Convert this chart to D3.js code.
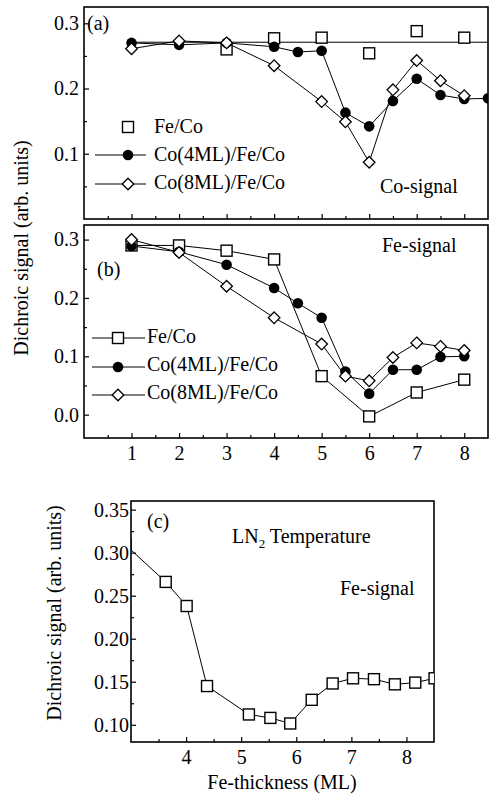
<!DOCTYPE html>
<html>
<head>
<meta charset="utf-8">
<script src="https://cdn.jsdelivr.net/npm/d3@7"></script>
<style>
  body { margin: 0; background: #fff; }
  svg { display: block; }
  text { font-family: "Liberation Serif", "Times New Roman", serif; fill: #000; }
</style>
</head>
<body>
<div id="graph_div"></div>
<script>
// values

// panel (a) Co-signal
const a_feco_x = [3, 4, 5, 6, 7, 8];
const a_feco_y = [0.260, 0.277, 0.278, 0.254, 0.288, 0.278];
const a_co4_x = [1, 2, 3, 4, 4.5, 5, 5.5, 6, 6.5, 7, 7.5, 8, 8.5];
const a_co4_y = [0.270, 0.267, 0.270, 0.264, 0.256, 0.258, 0.163, 0.142, 0.181, 0.215, 0.190, 0.184, 0.185];
const a_co8_x = [1, 2, 3, 4, 5, 5.5, 6, 6.5, 7, 7.5, 8];
const a_co8_y = [0.261, 0.273, 0.270, 0.235, 0.180, 0.149, 0.087, 0.198, 0.243, 0.212, 0.189];
const a_ref_x = [1, 8.5];
const a_ref_y = [0.271, 0.271];

// panel (b) Fe-signal
const b_feco_x = [1, 2, 3, 4, 5, 6, 7, 8];
const b_feco_y = [0.290, 0.290, 0.281, 0.266, 0.066, -0.003, 0.038, 0.060];
const b_co4_x = [1, 2, 3, 4, 4.5, 5, 5.5, 6, 6.5, 7, 7.5, 8];
const b_co4_y = [0.289, 0.279, 0.257, 0.217, 0.191, 0.166, 0.074, 0.036, 0.077, 0.077, 0.099, 0.100];
const b_co8_x = [1, 2, 3, 4, 5, 5.5, 6, 6.5, 7, 7.5, 8];
const b_co8_y = [0.300, 0.278, 0.220, 0.166, 0.121, 0.066, 0.058, 0.098, 0.123, 0.117, 0.110];

// panel (c) LN2 temperature
const c_x = [2.9, 3.63, 4.01, 4.38, 5.14, 5.53, 5.89, 6.28, 6.66, 7.03, 7.41, 7.79, 8.16, 8.51];
const c_y = [0.309, 0.266, 0.238, 0.145, 0.112, 0.108, 0.1015, 0.129, 0.148, 0.154, 0.153, 0.147, 0.149, 0.154];

const xTicksAB = [1, 2, 3, 4, 5, 6, 7, 8];
const xMinorAB = [0.5, 1.5, 2.5, 3.5, 4.5, 5.5, 6.5, 7.5];
const yTicksA = [0.1, 0.2, 0.3];
const yMinorA = [0.05, 0.15, 0.25];
const yTicksB = [0.0, 0.1, 0.2, 0.3];
const yMinorB = [0.05, 0.15, 0.25];
const xTicksC = [4, 5, 6, 7, 8];
const xMinorC = [3.5, 4.5, 5.5, 6.5, 7.5];
const yTicksC = [0.10, 0.15, 0.20, 0.25, 0.30, 0.35];
const yMinorC = [0.125, 0.175, 0.225, 0.275, 0.325];

const legendNames = ["Fe/Co", "Co(4ML)/Fe/Co", "Co(8ML)/Fe/Co"];

const width = 490;
const height = 799;
const fontSize = 20;

const svg = d3.select("#graph_div")
  .append("svg").attr("width", width).attr("height", height);

const zip = (xs, ys) => xs.map((v, i) => [v, ys[i]]);

function drawMarker(g, kind, cx, cy) {
  if (kind === "square") {
    g.append("rect").attr("x", cx - 5.5).attr("y", cy - 5.5).attr("width", 11).attr("height", 11)
      .attr("fill", "#fff").attr("stroke", "#000").attr("stroke-width", 1.4);
  } else if (kind === "circle") {
    g.append("circle").attr("cx", cx).attr("cy", cy).attr("r", 5.3).attr("fill", "#000");
  } else {
    const s = 5.8;
    g.append("path").attr("d", `M${cx},${cy - s}L${cx + s},${cy}L${cx},${cy + s}L${cx - s},${cy}Z`)
      .attr("fill", "#fff").attr("stroke", "#000").attr("stroke-width", 1.3);
  }
}

function panel(opt) {
  const x = d3.scaleLinear().domain(opt.xd).range([opt.left, opt.right]);
  const y = d3.scaleLinear().domain(opt.yd).range([opt.bottom, opt.top]);
  const g = svg.append("g");

  const clipId = "clip" + opt.id;
  svg.append("clipPath").attr("id", clipId)
    .append("rect").attr("x", opt.left).attr("y", opt.top)
    .attr("width", opt.right - opt.left).attr("height", opt.bottom - opt.top);

  // axes, ticks point inwards
  const yAx = g.append("g").attr("transform", `translate(${opt.left},0)`)
    .call(d3.axisLeft(y).tickValues(opt.yTicks).tickSizeInner(-5).tickSizeOuter(0)
      .tickPadding(opt.yPad).tickFormat(d3.format(opt.yFmt)));
  const yMin = g.append("g").attr("transform", `translate(${opt.left},0)`)
    .call(d3.axisLeft(y).tickValues(opt.yMinor).tickSizeInner(-3).tickSizeOuter(0).tickFormat(""));
  const xAx = g.append("g").attr("transform", `translate(0,${opt.bottom})`)
    .call(d3.axisBottom(x).tickValues(opt.xTicks).tickSizeInner(-5).tickSizeOuter(0)
      .tickPadding(opt.xPad).tickFormat(opt.xLabels ? d3.format("d") : ""));
  const xMin = g.append("g").attr("transform", `translate(0,${opt.bottom})`)
    .call(d3.axisBottom(x).tickValues(opt.xMinor).tickSizeInner(-3).tickSizeOuter(0).tickFormat(""));

  [yAx, yMin, xAx, xMin].forEach(a => {
    a.select(".domain").remove();
    a.selectAll("line").attr("stroke", "#000").attr("stroke-width", 1.2);
    a.selectAll("text").style("font-size", fontSize + "px")
      .style("font-family", '"Liberation Serif", "Times New Roman", serif');
  });

  g.append("rect").attr("x", opt.left).attr("y", opt.top)
    .attr("width", opt.right - opt.left).attr("height", opt.bottom - opt.top)
    .attr("fill", "none").attr("stroke", "#000").attr("stroke-width", 1.6);

  const plot = g.append("g").attr("clip-path", `url(#${clipId})`);
  const line = d3.line().x(d => x(d[0])).y(d => y(d[1]));

  opt.series.forEach(s => {
    const data = zip(s.x, s.y);
    if (s.line) {
      plot.append("path").datum(data).attr("fill", "none").attr("stroke", "#000")
        .attr("stroke-width", 1).attr("d", line);
    }
    if (s.marker) data.forEach(d => drawMarker(plot, s.marker, x(d[0]), y(d[1])));
  });
  return { x, y };
}

// (a)
panel({
  id: "a", left: 84, right: 488, top: 7, bottom: 219,
  xd: [0, 8.5], yd: [0, 0.325],
  yTicks: yTicksA, yMinor: yMinorA, yFmt: ".1f", yPad: 5,
  xTicks: xTicksAB, xMinor: xMinorAB, xLabels: false, xPad: 8,
  series: [
    { x: a_ref_x, y: a_ref_y, line: true },
    { x: a_feco_x, y: a_feco_y, marker: "square" },
    { x: a_co4_x, y: a_co4_y, line: true, marker: "circle" },
    { x: a_co8_x, y: a_co8_y, line: true, marker: "diamond" }
  ]
});

// (b)
panel({
  id: "b", left: 84, right: 488, top: 225, bottom: 438,
  xd: [0, 8.5], yd: [-0.04, 0.325],
  yTicks: yTicksB, yMinor: yMinorB, yFmt: ".1f", yPad: 5,
  xTicks: xTicksAB, xMinor: xMinorAB, xLabels: true, xPad: 8,
  series: [
    { x: b_feco_x, y: b_feco_y, line: true, marker: "square" },
    { x: b_co4_x, y: b_co4_y, line: true, marker: "circle" },
    { x: b_co8_x, y: b_co8_y, line: true, marker: "diamond" }
  ]
});

// (c)
panel({
  id: "c", left: 131, right: 434, top: 501, bottom: 742,
  xd: [3, 8.5], yd: [0.08, 0.36],
  yTicks: yTicksC, yMinor: yMinorC, yFmt: ".2f", yPad: 2,
  xTicks: xTicksC, xMinor: xMinorC, xLabels: true, xPad: 8,
  series: [
    { x: c_x, y: c_y, line: true, marker: "square" }
  ]
});

// legends
const kinds = ["square", "circle", "diamond"];
const legA = svg.append("g");
[133, 161, 189].forEach((by, i) => {
  const my = [127, 155, 184][i];
  if (i > 0) legA.append("line").attr("x1", 95).attr("x2", 146).attr("y1", my).attr("y2", my)
    .attr("stroke", "#000").attr("stroke-width", 1);
  drawMarker(legA, kinds[i], 128, my);
  legA.append("text").attr("x", 154).attr("y", by).style("font-size", fontSize + "px").text(legendNames[i]);
});
const legB = svg.append("g");
[343, 371, 399].forEach((by, i) => {
  const my = [338, 367, 395][i];
  legB.append("line").attr("x1", 92).attr("x2", 145).attr("y1", my).attr("y2", my)
    .attr("stroke", "#000").attr("stroke-width", 1);
  drawMarker(legB, kinds[i], 118, my);
  legB.append("text").attr("x", 147).attr("y", by).style("font-size", fontSize + "px").text(legendNames[i]);
});

// annotations
const note = (tx, ty, t) => svg.append("text").attr("x", tx).attr("y", ty)
  .style("font-size", fontSize + "px").text(t);
note(87, 30, "(a)");
note(380, 193, "Co-signal");
note(97, 276, "(b)");
note(382, 252, "Fe-signal");
note(147, 528, "(c)");
note(340, 595, "Fe-signal");

const ln2 = svg.append("text").attr("x", 232).attr("y", 543).style("font-size", fontSize + "px");
ln2.append("tspan").text("LN");
ln2.append("tspan").attr("dy", 5).style("font-size", "13px").text("2");
ln2.append("tspan").attr("dy", -5).text(" Temperature");

// axis titles
svg.append("text").attr("transform", "translate(28,248) rotate(-90)")
  .attr("text-anchor", "middle").style("font-size", fontSize + "px")
  .text("Dichroic signal (arb. units)");
svg.append("text").attr("transform", "translate(61,613) rotate(-90)")
  .attr("text-anchor", "middle").style("font-size", fontSize + "px")
  .text("Dichroic signal (arb. units)");
svg.append("text").attr("x", 282).attr("y", 789)
  .attr("text-anchor", "middle").style("font-size", fontSize + "px")
  .text("Fe-thickness (ML)");
</script>
</body>
</html>
